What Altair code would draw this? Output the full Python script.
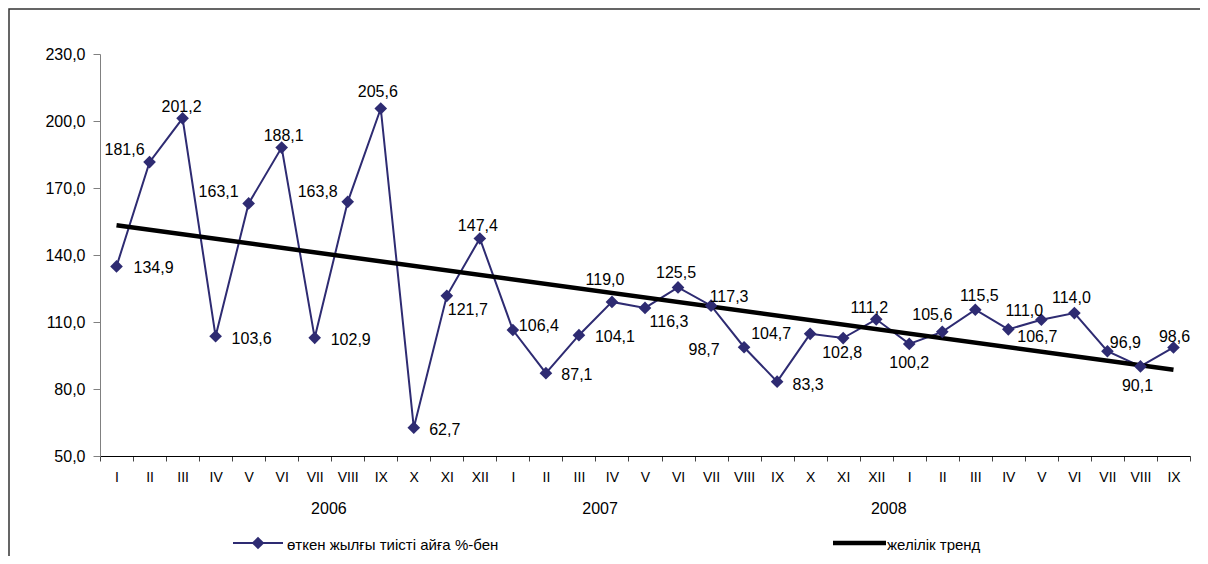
import json
import altair as alt
import pandas as pd

# ---- data ----
months = ["I", "II", "III", "IV", "V", "VI", "VII", "VIII", "IX", "X", "XI", "XII",
          "I", "II", "III", "IV", "V", "VI", "VII", "VIII", "IX", "X", "XI", "XII",
          "I", "II", "III", "IV", "V", "VI", "VII", "VIII", "IX"]
values = [134.9, 181.6, 201.2, 103.6, 163.1, 188.1, 102.9, 163.8, 205.6, 62.7, 121.7, 147.4,
          106.4, 87.1, 104.1, 119.0, 116.3, 125.5, 117.3, 98.7, 83.3, 104.7, 102.8, 111.2,
          100.2, 105.6, 115.5, 106.7, 111.0, 114.0, 96.9, 90.1, 98.6]
years = ["2006", "2007", "2008"]
year_pos = [6.43, 14.64, 23.38]          # category position of the year captions
series_name = "өткен жылғы тиісті айға %-бен"
trend_name = "желілік тренд"

# label offsets in pixels (style, kept apart from the data)
label_dx = [37, -25, -1, 36, -30, 2, 36, -30, -3, 31, 21, -2,
            26, 31, 36, -7, 24, -2, 18, -40, 31, -39, -1, -7,
            0, -10, 4, 29, -17, -3, 18, -3, 1]
label_dy = [2, -12, -11, 3, -11, -12, 2, -10, -16, 2, 14, -12,
            -4, 2, 2, -22, 14, -14, -9, 3, 3, 0, 15, -11,
            19, -17, -14, 8, -9, -15, -8, 20, -10]

W, H = 1090, 402
YMIN, YMAX = 50, 230
PX_X = W / 33.0
PX_Y = H / (YMAX - YMIN)

FONT = "Liberation Sans"
NAVY = "#2E2B72"

df = pd.DataFrame({
    "idx": list(range(len(values))),
    "value": values,
    "ldx": label_dx,
    "ldy": label_dy,
})

xscale = alt.Scale(domain=[-0.5, 32.5], nice=False, zero=False)
yscale = alt.Scale(domain=[YMIN, YMAX], nice=False, zero=False)

label_expr = json.dumps(months) + "[round(datum.value + 0.5)] || ''"
xaxis = alt.Axis(values=[i - 0.5 for i in range(34)], labelExpr=label_expr, labelOffset=PX_X / 2,
                 title=None, grid=False, tickSize=5, tickColor="#444", domainColor="#000",
                 labelFont=FONT, labelFontSize=14, labelColor="#000", labelPadding=9,
                 labelOverlap=False, labelFlush=False, labelBound=False)
yaxis = alt.Axis(values=list(range(50, 231, 30)),
                 labelExpr="replace(format(datum.value, '.1f'), '.', ',')",
                 title=None, grid=False, tickSize=7, tickColor="#808080", domainColor="#808080",
                 labelFont=FONT, labelFontSize=16, labelColor="#000", labelPadding=8)

base = alt.Chart(df)

line = base.mark_line(color=NAVY, strokeWidth=2).encode(
    x=alt.X("idx:Q", scale=xscale, axis=xaxis),
    y=alt.Y("value:Q", scale=yscale, axis=yaxis),
)

trend = base.transform_regression("idx", "value", extent=[0, 32]).mark_line(
    color="#000", strokeWidth=4.5
).encode(
    x=alt.X("idx:Q", scale=xscale, axis=xaxis),
    y=alt.Y("value:Q", scale=yscale, axis=yaxis),
)

points = base.mark_point(shape="diamond", filled=True, color=NAVY, size=160, opacity=1).encode(
    x=alt.X("idx:Q", scale=xscale, axis=xaxis),
    y=alt.Y("value:Q", scale=yscale, axis=yaxis),
)

labels = base.transform_calculate(
    lx=f"datum.idx + datum.ldx / {PX_X}",
    ly=f"datum.value - datum.ldy / {PX_Y}",
    label="replace(format(datum.value, '.1f'), '.', ',')",
).mark_text(font=FONT, fontSize=16, color="#000", align="center", baseline="middle").encode(
    x=alt.X("lx:Q", scale=xscale, axis=xaxis),
    y=alt.Y("ly:Q", scale=yscale, axis=yaxis),
    text="label:N",
)

year_df = pd.DataFrame({"pos": year_pos, "year": years})
year_text = alt.Chart(year_df).mark_text(
    font=FONT, fontSize=16, color="#000", align="center", baseline="middle"
).encode(
    x=alt.X("pos:Q", scale=xscale, axis=xaxis),
    y=alt.value(455),
    text="year:N",
)

one = pd.DataFrame({"k": [0]})
leg1_line = alt.Chart(one).mark_rule(color=NAVY, strokeWidth=2).encode(
    x=alt.value(133), x2=alt.value(183), y=alt.value(489))
leg1_pt = alt.Chart(one).mark_point(shape="diamond", filled=True, color=NAVY, size=160, opacity=1).encode(
    x=alt.value(158), y=alt.value(489))
leg1_txt = alt.Chart(pd.DataFrame({"t": [series_name]})).mark_text(
    font=FONT, fontSize=15, color="#000", align="left", baseline="middle").encode(
    x=alt.value(187), y=alt.value(491), text="t:N")
leg2_line = alt.Chart(one).mark_rule(color="#000", strokeWidth=4.5).encode(
    x=alt.value(733), x2=alt.value(786), y=alt.value(489))
leg2_txt = alt.Chart(pd.DataFrame({"t": [trend_name]})).mark_text(
    font=FONT, fontSize=15, color="#000", align="left", baseline="middle").encode(
    x=alt.value(787), y=alt.value(491), text="t:N")

frame = alt.Chart(one).mark_rect(fill="#fff", fillOpacity=0, stroke="#333", strokeWidth=1.5).encode(
    x=alt.value(-91), x2=alt.value(1200), y=alt.value(-45), y2=alt.value(700))

chart = alt.layer(
    frame, line, trend, points, labels, year_text,
    leg1_line, leg1_pt, leg1_txt, leg2_line, leg2_txt,
).properties(
    width=W, height=H,
    autosize=alt.AutoSizeParams(type="none"),
    padding={"left": 92, "top": 46, "right": 10, "bottom": 100},
    background="#ffffff",
).configure_view(stroke=None)

chart.save("out.html", embed_options={"renderer": "svg", "actions": False})
